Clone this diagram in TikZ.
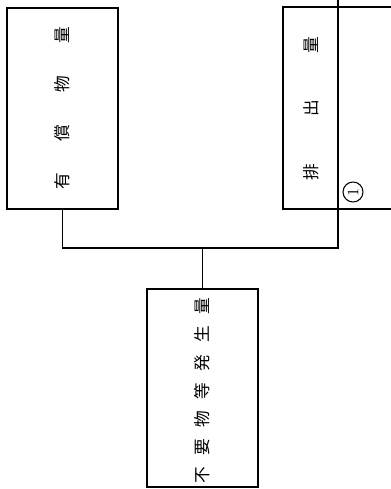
\documentclass[tikz,border=0pt]{standalone}
\usepackage{fontspec}
\newfontfamily\cjk{Noto Sans CJK JP}
\tikzset{
  box/.style={draw, line width=0.6pt, inner sep=0pt},
  vtext/.style={rotate=90, inner sep=0pt, font=\cjk\fontsize{9.5}{11}\selectfont},
}
\begin{document}
\begin{tikzpicture}[x=0.02cm, y=-0.02cm, line width=0.6pt]
\useasboundingbox (0,0) rectangle (391,489);
% boxes
\node[box, minimum width=2.22cm, minimum height=4.02cm] (yushou) at (62.5,108.5){};
\node[inner sep=0pt, minimum width=2.16cm, minimum height=4.02cm, anchor=west] (haishutsu) at (283,108){};
\node[box, minimum width=2.22cm, minimum height=3.96cm] (hassei) at (202.5,388){};
\draw (haishutsu.north east) -- (haishutsu.north west) -- (haishutsu.south west) -- (haishutsu.south east);
% labels
\node[vtext] (yushoutxt) at (62.5,108.5){有\hspace{0.64cm}償\hspace{0.64cm}物\hspace{0.64cm}量};
\node[vtext] (haishutsutxt) at (311,108.5){排\hspace{0.93cm}出\hspace{0.93cm}量};
\node[vtext] (hasseitxt) at (202.5,391){不\hspace{0.23cm}要\hspace{0.23cm}物\hspace{0.23cm}等\hspace{0.23cm}発\hspace{0.23cm}生\hspace{0.23cm}量};
\node[draw, circle, rotate=90, inner sep=0pt, minimum size=0.4cm, font=\fontsize{9}{10}\selectfont] (maru1) at (353,192){1};
% connectors
\coordinate (top) at (338,0);
\coordinate (jl) at (yushou.south |- 0,248);
\coordinate (jr) at (338,248);
\draw (yushou.south) -- (jl) -- (jr) -- (top);
\draw (hassei.north) -- (hassei.north |- jl);
\end{tikzpicture}
\end{document}
